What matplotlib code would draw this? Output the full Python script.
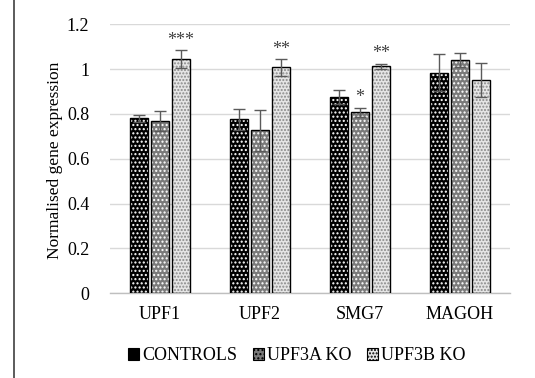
import matplotlib
matplotlib.use("Agg")
import matplotlib.pyplot as plt
from matplotlib.patches import Patch
from matplotlib.lines import Line2D
import numpy as np

plt.rcParams['font.family'] = ['Liberation Serif', 'DejaVu Serif']
plt.rcParams['hatch.linewidth'] = 1.0

genes = ["UPF1", "UPF2", "SMG7", "MAGOH"]
groups = ["CONTROLS", "UPF3A KO", "UPF3B KO"]

controls = [0.78, 0.776, 0.874, 0.984]
upf3a = [0.77, 0.727, 0.807, 1.04]
upf3b = [1.045, 1.007, 1.012, 0.951]

controls_err = [0.016, 0.047, 0.031, 0.083]
upf3a_err = [0.045, 0.092, 0.021, 0.031]
upf3b_err = [0.040, 0.037, 0.012, 0.077]

# significance marks: (gene index, group index, label)
stars = [(0, 2, "***"), (1, 2, "**"), (2, 1, "*"), (2, 2, "**")]

yticks = [0, 0.2, 0.4, 0.6, 0.8, 1.0, 1.2]
ytick_labels = ["0", "0.2", "0.4", "0.6", "0.8", "1", "1.2"]

values = [controls, upf3a, upf3b]
errors = [controls_err, upf3a_err, upf3b_err]
# fill colour, pattern colour, pattern
styles = [
    ("#000000", "#ffffff", "...."),
    ("#7a7a7a", "#ffffff", "...."),
    ("#e6e6e6", "#8a8a8a", "....."),
]

fig = plt.figure(figsize=(5.35, 3.78), dpi=100)
ax = fig.add_axes([110 / 535, 1 - 293.3 / 378, 400 / 535, (293.3 - 24.2) / 378])

x = np.arange(len(genes))
width = 0.18
offsets = [-0.21, 0.0, 0.21]

for gi in range(3):
    fc, hc, hatch = styles[gi]
    pos = x + offsets[gi]
    ax.bar(pos, values[gi], width, color=fc, edgecolor=hc, hatch=hatch,
           linewidth=0, zorder=2)
    ax.bar(pos, values[gi], width, fill=False, edgecolor="black",
           linewidth=1.0, zorder=3)
    ax.errorbar(pos, values[gi], yerr=errors[gi], fmt="none",
                ecolor="#5a5a5a", elinewidth=1.0, capsize=4.3,
                capthick=1.0, zorder=4)

for gene_i, grp_i, label in stars:
    top = values[grp_i][gene_i] + errors[grp_i][gene_i]
    ax.annotate(label, (x[gene_i] + offsets[grp_i], top),
                xytext=(0, 1), textcoords="offset points",
                ha="center", va="bottom", fontsize=13, color="#404040")

ax.set_xlim(-0.5, 3.5)
ax.set_ylim(0, 1.2)
ax.set_yticks(yticks)
ax.set_yticklabels(ytick_labels)
ax.set_xticks(x)
ax.set_xticklabels(genes)
ax.tick_params(axis="both", length=0, labelsize=13)
ax.tick_params(axis="y", pad=15)
ax.tick_params(axis="x", pad=9)
ax.yaxis.grid(True, color="#d9d9d9", linewidth=1.0, zorder=0)
ax.set_axisbelow(True)
for side in ("top", "right", "left"):
    ax.spines[side].set_visible(False)
ax.spines["bottom"].set_color("#bfbfbf")
ax.spines["bottom"].set_linewidth(1.0)

fig.text(55 / 535, 1 - 160 / 378, "Normalised gene expression",
         rotation=90, ha="center", va="center", fontsize=12.5)

handles = [
    Patch(facecolor=styles[i][0], edgecolor="black", hatch=styles[i][2],
          linewidth=0.8)
    for i in range(3)
]
leg = fig.legend(handles, groups, loc="center", ncol=3,
                 bbox_to_anchor=(0.555, 1 - 356 / 378), frameon=False,
                 fontsize=13, handlelength=0.6, handleheight=0.6,
                 handletextpad=0.15, columnspacing=0.9)

fig.add_artist(Line2D([14 / 535, 14 / 535], [0, 1], color="#404040",
                      linewidth=1.2, transform=fig.transFigure))

fig.savefig("out.png", dpi=100)
